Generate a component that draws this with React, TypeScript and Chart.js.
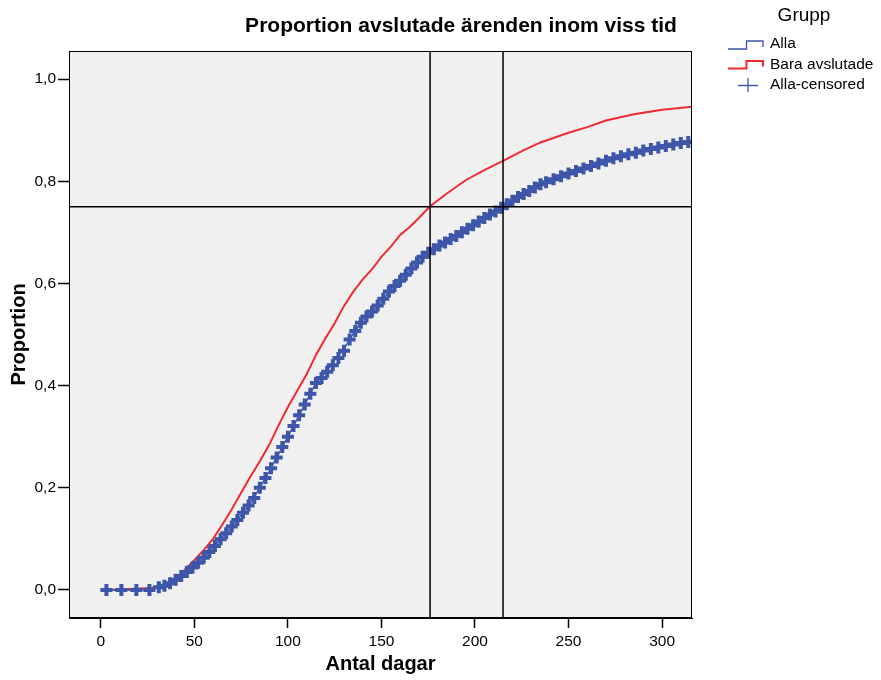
import React, { useEffect, useRef } from 'react';
import { Chart, registerables } from 'chart.js';

Chart.register(...registerables);

const FONT = '"Liberation Sans", Arial, sans-serif';

const chartTitle = 'Proportion avslutade ärenden inom viss tid';
const xTitle = 'Antal dagar';
const yTitle = 'Proportion';
const legendTitle = 'Grupp';
const seriesNames = ['Alla', 'Bara avslutade', 'Alla-censored'];

const xTickValues = [0, 50, 100, 150, 200, 250, 300];
const xTickLabels = ['0', '50', '100', '150', '200', '250', '300'];
const yTickValues = [0, 0.2, 0.4, 0.6, 0.8, 1.0];
const yTickLabels = ['0,0', '0,2', '0,4', '0,6', '0,8', '1,0'];

const xMin = -17;
const xMax = 316;
const yMin = -0.055;
const yMax = 1.055;

const refProportion = 0.75;
const refDays = [176, 215];

const allaDays = [3, 25, 30, 35, 40, 45, 50, 55, 60, 65, 70, 75, 80, 85, 90, 95, 100, 105, 110, 115, 120, 125, 130, 135, 140, 145, 150, 155, 160, 165, 170, 176, 185, 195, 205, 215, 225, 235, 250, 265, 285, 300, 316];
const allaProp = [0, 0, 0.005, 0.01, 0.02, 0.032, 0.047, 0.063, 0.082, 0.103, 0.124, 0.146, 0.17, 0.2, 0.232, 0.266, 0.3, 0.335, 0.37, 0.405, 0.425, 0.45, 0.472, 0.502, 0.528, 0.545, 0.565, 0.588, 0.605, 0.625, 0.645, 0.662, 0.682, 0.705, 0.728, 0.75, 0.773, 0.794, 0.815, 0.834, 0.855, 0.868, 0.878];

const baraDays = [3, 30, 35, 40, 45, 50, 55, 60, 65, 70, 75, 80, 85, 90, 95, 100, 105, 110, 115, 120, 125, 130, 135, 140, 145, 150, 155, 160, 165, 170, 176, 185, 195, 205, 215, 225, 235, 250, 260, 270, 285, 300, 316];
const baraProp = [0, 0.004, 0.01, 0.02, 0.04, 0.058, 0.078, 0.1, 0.128, 0.158, 0.19, 0.222, 0.252, 0.284, 0.322, 0.358, 0.39, 0.422, 0.46, 0.492, 0.522, 0.556, 0.584, 0.608, 0.628, 0.652, 0.672, 0.695, 0.71, 0.728, 0.751, 0.776, 0.802, 0.822, 0.84, 0.859, 0.876, 0.895, 0.906, 0.919, 0.931, 0.94, 0.946];

const censDays = [
  3, 11, 19, 26, 31, 34, 37, 40, 43, 46,
  49, 52, 55, 58, 61, 64, 67, 70, 73, 76,
  79, 82, 85, 88, 91, 94, 97, 100, 103, 106,
  109, 112, 115, 118, 121, 124, 127, 130, 133, 136,
  139, 142, 145, 148, 151, 154, 157, 160, 163, 166,
  169, 172, 175, 178, 181, 184, 187, 190, 193, 196,
  199, 202, 205, 208, 211, 214, 217, 220, 223, 226,
  229, 232, 235, 238, 242, 246, 250, 254, 258, 262,
  266, 270, 274, 278, 282, 286, 290, 294, 298, 302,
  306, 310, 314,
];
const censProp = [
  0, 0, 0, 0, 0.005, 0.008, 0.013, 0.02, 0.027, 0.035,
  0.044, 0.053, 0.063, 0.074, 0.086, 0.099, 0.111, 0.124, 0.137, 0.151,
  0.165, 0.18, 0.2, 0.219, 0.238, 0.259, 0.28, 0.3, 0.321, 0.342,
  0.363, 0.384, 0.405, 0.415, 0.427, 0.44, 0.454, 0.468, 0.49, 0.507,
  0.523, 0.535, 0.545, 0.557, 0.57, 0.584, 0.595, 0.605, 0.617, 0.629,
  0.641, 0.652, 0.66, 0.667, 0.674, 0.68, 0.687, 0.693, 0.7, 0.707,
  0.714, 0.721, 0.728, 0.735, 0.741, 0.748, 0.755, 0.762, 0.769, 0.775,
  0.781, 0.788, 0.794, 0.798, 0.804, 0.81, 0.815, 0.82, 0.825, 0.83,
  0.835, 0.84, 0.845, 0.849, 0.853, 0.856, 0.86, 0.863, 0.866, 0.869,
  0.872, 0.875, 0.877,
];

const BLUE = '#3d56a9';
const RED = '#f02a30';
const PLOT_BG = '#f0f0f0';

const toPoints = (xs: number[], ys: number[]) => xs.map((x, i) => ({ x, y: ys[i] }));

const decorPlugin = {
  id: 'decor',
  beforeDraw(chart: any) {
    const { ctx, chartArea: a } = chart;
    ctx.save();
    ctx.fillStyle = '#ffffff';
    ctx.fillRect(0, 0, chart.width, chart.height);
    ctx.fillStyle = PLOT_BG;
    ctx.fillRect(a.left, a.top, a.right - a.left, a.bottom - a.top);
    ctx.restore();
  },
  afterDraw(chart: any) {
    const { ctx, chartArea: a } = chart;
    ctx.save();
    ctx.strokeStyle = '#000';
    ctx.lineWidth = 1;
    ctx.strokeRect(Math.round(a.left) + 0.5, Math.round(a.top) + 0.5, Math.round(a.right - a.left) - 1, Math.round(a.bottom - a.top) - 1);

    ctx.fillStyle = '#000';
    ctx.font = `bold 21px ${FONT}`;
    ctx.textAlign = 'center';
    ctx.textBaseline = 'middle';
    ctx.fillText(chartTitle, 461, 26);

    ctx.font = `19px ${FONT}`;
    ctx.fillText(legendTitle, 804, 16);

    ctx.font = `15.5px ${FONT}`;
    ctx.textAlign = 'left';
    const rows = [44, 65, 85];
    const steps = [
      { color: BLUE, width: 1.3, low: 49, high: 41 },
      { color: RED, width: 2, low: 68.5, high: 61 },
    ];
    steps.forEach((s, i) => {
      ctx.strokeStyle = s.color;
      ctx.lineWidth = s.width;
      ctx.beginPath();
      ctx.moveTo(728, s.low);
      ctx.lineTo(746.5, s.low);
      ctx.lineTo(746.5, s.high);
      ctx.lineTo(763, s.high);
      ctx.lineTo(763, s.low - 2);
      ctx.stroke();
      ctx.fillStyle = '#000';
      ctx.fillText(seriesNames[i], 770, rows[i]);
    });
    ctx.strokeStyle = BLUE;
    ctx.lineWidth = 1.3;
    ctx.beginPath();
    ctx.moveTo(738, 85.5);
    ctx.lineTo(758, 85.5);
    ctx.moveTo(748, 78);
    ctx.lineTo(748, 92);
    ctx.stroke();
    ctx.fillStyle = '#000';
    ctx.fillText(seriesNames[2], 770, rows[2]);
    ctx.restore();
  },
};

export default function App() {
  const ref = useRef<HTMLCanvasElement | null>(null);

  useEffect(() => {
    if (!ref.current) return;
    const refLineStyle = {
      showLine: true,
      borderColor: '#000',
      borderWidth: 1.5,
      pointRadius: 0,
      pointHoverRadius: 0,
      order: -1,
    };
    const chart = new Chart(ref.current, {
      type: 'scatter',
      data: {
        datasets: [
          {
            label: seriesNames[2],
            data: toPoints(censDays, censProp),
            showLine: false,
            pointStyle: 'cross',
            pointRadius: 6,
            pointBorderWidth: 4,
            pointBorderColor: BLUE,
            pointBackgroundColor: BLUE,
            order: 0,
          },
          {
            label: seriesNames[0],
            data: toPoints(allaDays, allaProp),
            showLine: true,
            borderColor: BLUE,
            borderWidth: 1.5,
            pointRadius: 0,
            order: 1,
          },
          {
            label: seriesNames[1],
            data: toPoints(baraDays, baraProp),
            showLine: true,
            borderColor: RED,
            borderWidth: 2,
            pointRadius: 0,
            order: 2,
          },
          { ...refLineStyle, label: 'ref-h', data: [{ x: xMin, y: refProportion }, { x: xMax, y: refProportion }] },
          ...refDays.map((d) => ({ ...refLineStyle, label: 'ref-v', data: [{ x: d, y: yMin }, { x: d, y: yMax }] })),
        ] as any,
      },
      options: {
        animation: false,
        responsive: false,
        devicePixelRatio: 1,
        layout: { padding: { left: 0, right: 189, top: 51, bottom: 0 } },
        plugins: {
          legend: { display: false },
          tooltip: { enabled: false },
          title: { display: false },
        },
        scales: {
          x: {
            type: 'linear',
            min: xMin,
            max: xMax,
            afterBuildTicks: (s: any) => { s.ticks = xTickValues.map((v) => ({ value: v })); },
            afterFit: (s: any) => { s.height = 62; },
            grid: { display: true, drawOnChartArea: false, drawTicks: true, tickLength: 10, color: '#000', tickWidth: 1.5 },
            border: { display: true, color: '#000', width: 1 },
            ticks: {
              color: '#000',
              font: { family: FONT, size: 15.5 },
              padding: 4,
              maxRotation: 0,
              callback: (v: any) => xTickLabels[xTickValues.indexOf(Number(v))] ?? '',
            },
            title: {
              display: true,
              text: xTitle,
              color: '#000',
              font: { family: FONT, size: 20, weight: 'bold' },
              padding: { top: 0, bottom: 4 },
            },
          },
          y: {
            type: 'linear',
            min: yMin,
            max: yMax,
            afterBuildTicks: (s: any) => { s.ticks = yTickValues.map((v) => ({ value: v })); },
            afterFit: (s: any) => { s.width = 69; },
            grid: { display: true, drawOnChartArea: false, drawTicks: true, tickLength: 11, color: '#000', tickWidth: 1.5 },
            border: { display: true, color: '#000', width: 1 },
            ticks: {
              color: '#000',
              font: { family: FONT, size: 15.5 },
              padding: 2,
              callback: (v: any) => {
                const i = yTickValues.findIndex((t) => Math.abs(t - Number(v)) < 1e-9);
                return i >= 0 ? yTickLabels[i] : '';
              },
            },
            title: {
              display: true,
              text: yTitle,
              color: '#000',
              font: { family: FONT, size: 20, weight: 'bold' },
              padding: { top: 7, bottom: 0 },
            },
          },
        },
      } as any,
      plugins: [decorPlugin],
    });
    return () => chart.destroy();
  }, []);

  return (
    <div style={{ position: 'absolute', left: 0, top: 0, width: 881, height: 680, background: '#fff' }}>
      <canvas ref={ref} width={881} height={680} style={{ display: 'block', width: 881, height: 680 }} />
    </div>
  );
}
